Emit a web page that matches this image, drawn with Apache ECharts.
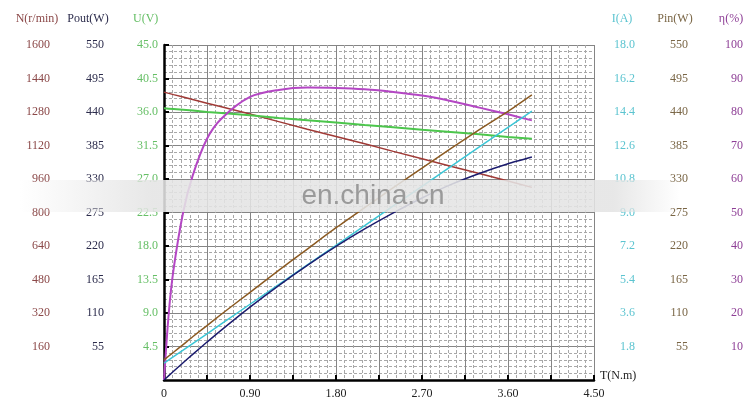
<!DOCTYPE html>
<html><head><meta charset="utf-8">
<script src="https://cdn.jsdelivr.net/npm/echarts@6.0.0/dist/echarts.min.js"></script>
<style>html,body{margin:0;padding:0;background:#fff}#c{width:750px;height:411px}</style>
</head><body><div id="c"></div>
<script>
// Torque T (N.m)
const torque  = [0, 0.05, 0.1, 0.2, 0.3, 0.45, 0.6, 0.9, 1.2, 1.5, 1.8, 2.1, 2.4, 2.7, 3.0, 3.3, 3.6, 3.85];
// Speed N (r/min)
const speed   = [1375, 1369, 1363, 1352, 1340, 1322, 1305, 1270, 1234, 1198, 1163, 1128, 1092, 1057, 1021, 986, 950, 920];
// Voltage U (V)
const voltage = [36.5, 36.45, 36.4, 36.3, 36.2, 36.0, 35.85, 35.55, 35.2, 34.9, 34.6, 34.25, 33.95, 33.6, 33.3, 33.0, 32.65, 32.4];
// Current I (A)
const current = [0.9, 1.08, 1.25, 1.6, 1.96, 2.48, 3.01, 4.07, 5.12, 6.18, 7.24, 8.29, 9.35, 10.4, 11.46, 12.52, 13.57, 14.45];
// Input power Pin (W)
const pin     = [33, 39.4, 45.5, 58.1, 71.0, 89.3, 107.9, 144, 180, 215, 250, 283, 316, 348, 380, 411, 441, 468];
// Output power Pout (W)
const pout    = [0, 7.2, 14.3, 28.3, 42.1, 62.3, 82.0, 119.7, 155.0, 188.1, 219.2, 248.0, 274.4, 298.8, 320.7, 339, 355, 366];
// Efficiency eta (%)
const eta     = [0, 20, 33, 50, 61, 72, 78, 84.5, 86.6, 87.3, 87.2, 86.8, 86.0, 84.9, 83.3, 81.3, 79.3, 77.5];

const FONT = 'Liberation Serif';
const C = {
  N: '#a03a36', NL: '#8b4848',
  U: '#4cc64c', UL: '#66bf66',
  I: '#3cc6d6', IL: '#5cc4d0',
  Pin: '#8b5a22', PinL: '#7a6646',
  Pout: '#1c1c6e', PoutL: '#2c2c4c',
  eta: '#b447c4', etaL: '#8e3f96'
};

const pair = arr => torque.map((t, i) => [t, arr[i]]);

function sideAxis(pos, min, max, interval, margin, color, dec) {
  return {
    type: 'value', position: pos, min: min, max: max, interval: interval,
    axisLine: {show: false}, axisTick: {show: false}, splitLine: {show: false},
    axisLabel: {
      show: true, margin: margin, align: 'right', color: color,
      fontFamily: FONT, fontSize: 12, showMinLabel: false,
      formatter: v => v === 0 ? '' : v.toFixed(dec)
    }
  };
}

const MAJOR = {color: '#858585', width: 1};
const MINOR = {color: '#a8a8a8', width: 1, type: [3, 2]};

const uAxis = {
  type: 'value', position: 'left', min: 0, max: 45, interval: 4.5,
  axisLine: {show: true, onZero: false, lineStyle: {color: '#000', width: 2.5}},
  axisTick: {show: true, inside: true, length: 5, lineStyle: {color: '#000', width: 2}},
  axisLabel: {margin: 6, align: 'right', color: C.UL, fontFamily: FONT, fontSize: 12,
    showMinLabel: false, formatter: v => v === 0 ? '' : v.toFixed(1)},
  splitLine: {show: true, lineStyle: MAJOR},
  minorTick: {show: false, splitNumber: 5},
  minorSplitLine: {show: true, lineStyle: MINOR}
};

const option = {
  animation: false,
  backgroundColor: '#fff',
  grid: {left: 164, right: 156, top: 45, bottom: 31},
  xAxis: {
    type: 'value', min: 0, max: 4.5, interval: 0.45,
    axisLine: {show: true, onZero: false, lineStyle: {color: '#000', width: 2.5}},
    axisTick: {show: true, inside: true, length: 5, lineStyle: {color: '#000', width: 2}},
    axisLabel: {margin: 8, color: '#222', fontFamily: FONT, fontSize: 12,
      formatter: v => {
        const k = Math.round(v / 0.45);
        if (k % 2 !== 0) return '';
        return k === 0 ? '0' : v.toFixed(2);
      }},
    splitLine: {show: true, lineStyle: MAJOR},
    minorTick: {show: false, splitNumber: 5},
    minorSplitLine: {show: true, lineStyle: MINOR}
  },
  yAxis: [
    uAxis,
    sideAxis('left', 0, 1600, 160, 114, C.NL, 0),
    sideAxis('left', 0, 550, 55, 60, C.PoutL, 0),
    sideAxis('right', 0, 18, 1.8, 41, C.IL, 1),
    sideAxis('right', 0, 550, 55, 94, C.PinL, 0),
    sideAxis('right', 0, 100, 10, 149, C.etaL, 0)
  ],
  series: [
    {name: 'N', type: 'line', yAxisIndex: 1, data: pair(speed), showSymbol: false, lineStyle: {color: C.N, width: 1.5}},
    {name: 'U', type: 'line', yAxisIndex: 0, data: pair(voltage), showSymbol: false, lineStyle: {color: C.U, width: 2}},
    {name: 'eta', type: 'line', yAxisIndex: 5, data: pair(eta), showSymbol: false, smooth: 0.3, lineStyle: {color: C.eta, width: 2}},
    {name: 'Pin', type: 'line', yAxisIndex: 4, data: pair(pin), showSymbol: false, smooth: 0.2, lineStyle: {color: C.Pin, width: 1.5}},
    {name: 'I', type: 'line', yAxisIndex: 3, data: pair(current), showSymbol: false, lineStyle: {color: C.I, width: 1.5}},
    {name: 'Pout', type: 'line', yAxisIndex: 2, data: pair(pout), showSymbol: false, smooth: 0.2, lineStyle: {color: C.Pout, width: 1.5}}
  ],
  graphic: [
    {type: 'text', x: 37, y: 19, style: {text: 'N(r/min)', fill: C.NL, font: '12px ' + FONT, textAlign: 'center', textVerticalAlign: 'middle'}},
    {type: 'text', x: 88, y: 19, style: {text: 'Pout(W)', fill: C.PoutL, font: '12px ' + FONT, textAlign: 'center', textVerticalAlign: 'middle'}},
    {type: 'text', x: 133, y: 19, style: {text: 'U(V)', fill: C.UL, font: '12px ' + FONT, textAlign: 'left', textVerticalAlign: 'middle'}},
    {type: 'text', x: 622, y: 19, style: {text: 'I(A)', fill: C.IL, font: '12px ' + FONT, textAlign: 'center', textVerticalAlign: 'middle'}},
    {type: 'text', x: 675, y: 19, style: {text: 'Pin(W)', fill: C.PinL, font: '12px ' + FONT, textAlign: 'center', textVerticalAlign: 'middle'}},
    {type: 'text', x: 731, y: 19, style: {text: 'η(%)', fill: C.etaL, font: '12px ' + FONT, textAlign: 'center', textVerticalAlign: 'middle'}},
    {type: 'text', x: 600, y: 376, style: {text: 'T(N.m)', fill: '#222', font: '12px ' + FONT, textAlign: 'left', textVerticalAlign: 'middle'}},
    {type: 'rect', z: 100, shape: {x: 20, y: 180, width: 660, height: 32},
      style: {fill: {type: 'linear', x: 0, y: 0, x2: 1, y2: 0, colorStops: [
        {offset: 0, color: 'rgba(228,228,228,0)'},
        {offset: 0.2, color: 'rgba(228,228,228,0.88)'},
        {offset: 0.9, color: 'rgba(228,228,228,0.88)'},
        {offset: 1, color: 'rgba(228,228,228,0)'}]}}},
    {type: 'text', z: 101, x: 373, y: 196, style: {text: 'en.china.cn', fill: '#9a9a9a', font: '28px Liberation Sans', textAlign: 'center', textVerticalAlign: 'middle'}}
  ]
};
echarts.init(document.getElementById('c'), null, {renderer: 'canvas'}).setOption(option);
</script>
</body></html>
